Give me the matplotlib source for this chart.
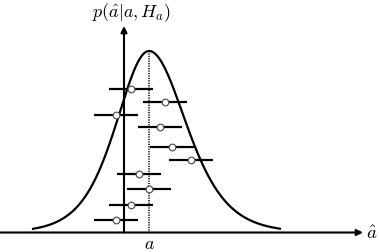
import numpy as np
import matplotlib
matplotlib.use("Agg")
import matplotlib.pyplot as plt

plt.rcParams["mathtext.fontset"] = "cm"

# estimates a_hat (in units of the error half-width), a = 0
estimates = [-0.83, 0.74, -1.51, 0.50, 1.03, 1.91, -0.44, 0.0, -0.83, -1.51]
heights = [0.79, 0.72, 0.65, 0.58, 0.47, 0.40, 0.32, 0.24, 0.153, 0.069]
xerr = 1.0

# density curve: sech^2 shape, slightly wider on the right
width_left = 2.0
width_right = 2.27
curve_start = -5.27
curve_end = 5.95

fig = plt.figure(figsize=(3.79, 2.53), dpi=100)
ax = fig.add_axes([0, 0, 1, 1])
ax.set_xlim(-149 / 22, 230 / 22)
ax.set_ylim(-19.5 / 181.5, 233.5 / 181.5)
ax.axis("off")

x = np.linspace(curve_start, curve_end, 400)
w = np.where(x < 0, width_left, width_right)
y = 1 / np.cosh(x / w) ** 2
ax.plot(x, y, color="black", lw=1.6, zorder=2)

# dotted line at the true value a
ax.plot([0, 0], [0, 1], color="black", lw=1.1, ls=(0, (0.8, 0.8)), zorder=1)

ax.errorbar(estimates, heights, xerr=xerr, fmt="o", color="black",
            elinewidth=1.6, capsize=0, ms=4.8, mfc="white", mec="#555555",
            mew=0.9, zorder=3)

# axes with arrows
yaxis_x = -25 / 22
ax.annotate("", xy=(214 / 22, 0), xytext=(-149 / 22, 0),
            arrowprops=dict(arrowstyle="-|>", lw=1.5, color="black",
                            mutation_scale=9, shrinkA=0, shrinkB=0))
ax.annotate("", xy=(yaxis_x, 206.5 / 181.5), xytext=(yaxis_x, 0),
            arrowprops=dict(arrowstyle="-|>", lw=1.5, color="black",
                            mutation_scale=9, shrinkA=0, shrinkB=0))

ax.text(223 / 22, 0, r"$\hat{a}$", fontsize=13.5, ha="center", va="center")
ax.text(0, -16 / 181.5, r"$a$", fontsize=13, ha="center", va="baseline")
ax.text(-17 / 22, 221 / 181.5, r"$p(\hat{a}|a, H_a)$", fontsize=13,
        ha="center", va="center")

fig.savefig("out.png", dpi=100)
